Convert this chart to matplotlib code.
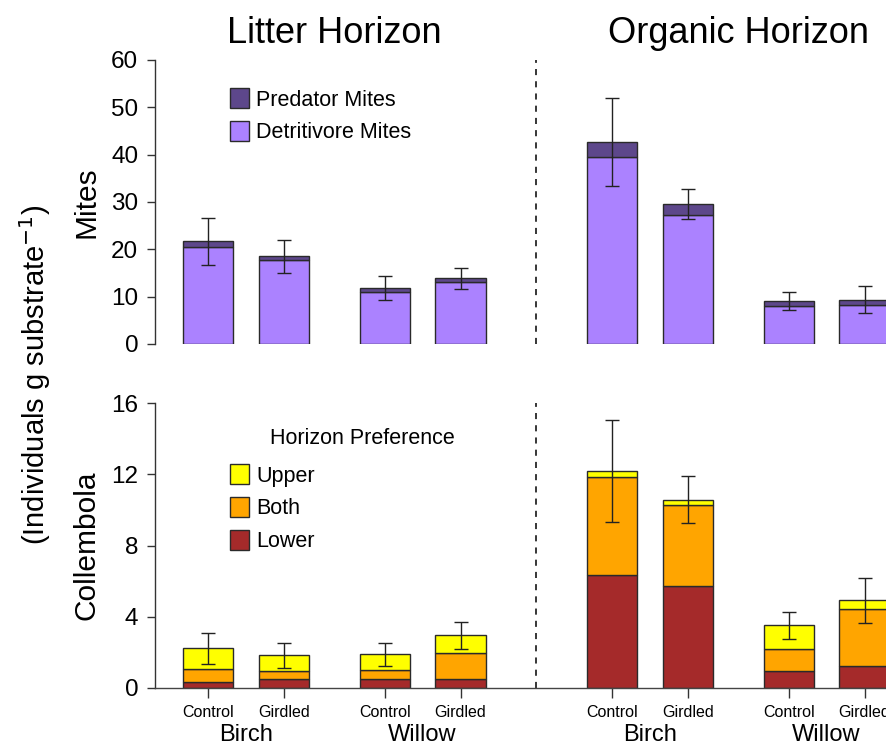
import matplotlib
matplotlib.use("Agg")
import matplotlib.pyplot as plt
from matplotlib.patches import Patch
import numpy as np

plt.rcParams['font.family'] = ['Liberation Sans', 'DejaVu Sans']

# ---- data ----
horizons = ["Litter Horizon", "Organic Horizon"]
species = ["Birch", "Willow"]
treatments = ["Control", "Girdled"]

# Mites (order: Litter B-C, B-G, W-C, W-G, Organic B-C, B-G, W-C, W-G)
detritivore_mites = [20.4, 17.8, 10.9, 13.2, 39.5, 27.3, 8.1, 8.2]
predator_mites = [1.3, 0.7, 0.9, 0.7, 3.1, 2.3, 1.05, 1.17]
mites_se = [5.0, 3.4, 2.6, 2.25, 9.3, 3.1, 1.9, 2.85]

# Collembola by horizon preference
coll_lower = [0.32, 0.49, 0.51, 0.49, 6.33, 5.71, 0.94, 1.24]
coll_both = [0.75, 0.45, 0.48, 1.48, 5.52, 4.55, 1.25, 3.18]
coll_upper = [1.16, 0.89, 0.90, 0.99, 0.35, 0.31, 1.33, 0.50]
coll_se = [0.87, 0.69, 0.64, 0.76, 2.86, 1.33, 0.75, 1.27]

mites_ticks = [0, 10, 20, 30, 40, 50, 60]
coll_ticks = [0, 4, 8, 12, 16]

col_pred = "#5D478B"
col_det = "#AB82FF"
col_upper = "#FFFF00"
col_both = "#FFA500"
col_lower = "#A52A2A"
edge = "#2a2a2a"

# bar positions (units of bar width)
pos = np.array([0, 1.5, 3.5, 5.0, 8.0, 9.5, 11.5, 13.0])
divider = 6.5

W, H = 887, 747
fig = plt.figure(figsize=(W / 100, H / 100), dpi=100)

left_px = 155
unit_px = 50.5
xl = (-(208 - left_px) / unit_px, (W - 208) / unit_px)

def ax_rect(top_px, bot_px):
    return [left_px / W, 1 - bot_px / H, (W - left_px) / W, (bot_px - top_px) / H]

ax1 = fig.add_axes(ax_rect(60, 344))
ax2 = fig.add_axes(ax_rect(403, 688))

for ax in (ax1, ax2):
    ax.set_xlim(*xl)
    for s in ("top", "right"):
        ax.spines[s].set_visible(False)
    ax.spines["left"].set_color("#333333")
    ax.spines["left"].set_linewidth(1.0)
    ax.tick_params(axis="y", direction="out", length=6, width=1.0, color="#333333",
                   labelsize=17.5, pad=6)
    ax.axvline(divider, color="black", lw=1.1, dashes=(4, 4))

bw = 1.0
lw = 1.0
ekw = dict(ecolor="#222222", elinewidth=1.0, capsize=5, capthick=1.0)

leg_kw = dict(loc="upper left", frameon=False, fontsize=15.5, handlelength=0.85,
              handleheight=1.05, handletextpad=0.35, labelspacing=0.48, borderaxespad=0)

# ---- top panel: mites ----
det = np.array(detritivore_mites)
pred = np.array(predator_mites)
ax1.bar(pos, det, width=bw, color=col_det, edgecolor=edge, linewidth=lw)
ax1.bar(pos, pred, bottom=det, width=bw, color=col_pred, edgecolor=edge, linewidth=lw)
ax1.errorbar(pos, det + pred, yerr=mites_se, fmt="none", **ekw)
ax1.set_ylim(0, 60)
ax1.set_yticks(mites_ticks)
ax1.spines["left"].set_bounds(0, 60)
ax1.spines["bottom"].set_visible(False)
ax1.set_xticks([])
ax1.set_ylabel("Mites", fontsize=21.5, labelpad=8)

ax1.legend(handles=[Patch(facecolor=col_pred, edgecolor=edge, label="Predator Mites"),
                    Patch(facecolor=col_det, edgecolor=edge, label="Detritivore Mites")],
           bbox_to_anchor=(0.091, 0.93), **leg_kw)

# titles
ax1.text(2.5, 1.095, horizons[0], transform=ax1.get_xaxis_transform(), ha="center",
         va="center", fontsize=26)
ax1.text(10.5, 1.095, horizons[1], transform=ax1.get_xaxis_transform(), ha="center",
         va="center", fontsize=26)

# ---- bottom panel: collembola ----
lo = np.array(coll_lower)
bo = np.array(coll_both)
up = np.array(coll_upper)
ax2.bar(pos, lo, width=bw, color=col_lower, edgecolor=edge, linewidth=lw)
ax2.bar(pos, bo, bottom=lo, width=bw, color=col_both, edgecolor=edge, linewidth=lw)
ax2.bar(pos, up, bottom=lo + bo, width=bw, color=col_upper, edgecolor=edge, linewidth=lw)
ax2.errorbar(pos, lo + bo + up, yerr=coll_se, fmt="none", **ekw)
ax2.set_ylim(0, 16)
ax2.set_yticks(coll_ticks)
ax2.spines["left"].set_bounds(0, 16)
ax2.spines["bottom"].set_color("#444444")
ax2.spines["bottom"].set_linewidth(1.0)
ax2.set_xticks(pos)
ax2.set_xticklabels(treatments * 4, fontsize=11.5)
ax2.tick_params(axis="x", direction="out", length=7, width=1.0, color="#333333", pad=5)
ax2.set_ylabel("Collembola", fontsize=21.5, labelpad=8)

for i, sp in enumerate(species * 2):
    cx = (pos[2 * i] + pos[2 * i + 1]) / 2
    ax2.text(cx, -0.165, sp, transform=ax2.get_xaxis_transform(), ha="center",
             va="center", fontsize=17)

ax2.legend(handles=[Patch(facecolor=col_upper, edgecolor=edge, label="Upper"),
                    Patch(facecolor=col_both, edgecolor=edge, label="Both"),
                    Patch(facecolor=col_lower, edgecolor=edge, label="Lower")],
           bbox_to_anchor=(0.091, 0.815), **leg_kw)
fig.text(362 / W, 1 - 438 / H, "Horizon Preference", fontsize=15.5,
         ha="center", va="center")

fig.text(35 / W, 1 - 375 / H, r"(Individuals g substrate$^{-1}$)", rotation=90,
         ha="center", va="center", fontsize=21)

fig.savefig("out.png", dpi=100)
